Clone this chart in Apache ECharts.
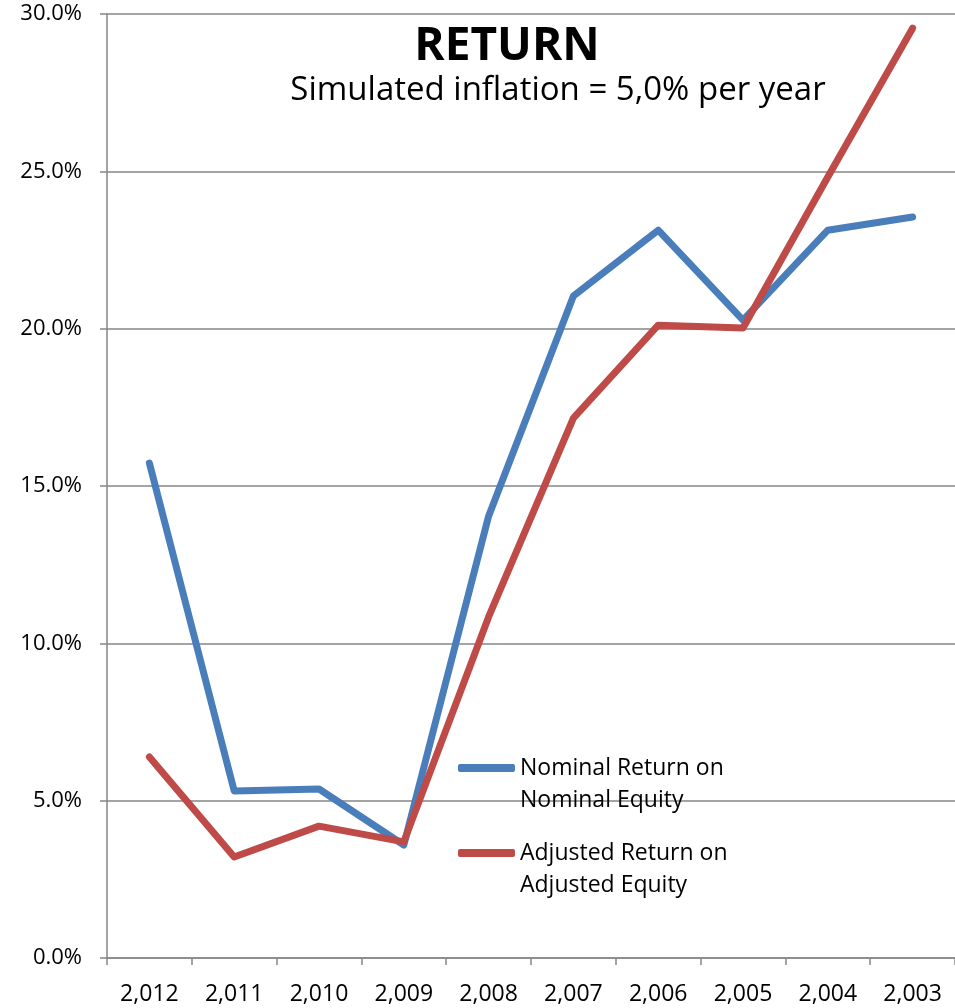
<!DOCTYPE html>
<html>
<head>
<meta charset="utf-8">
<script src="https://cdn.jsdelivr.net/npm/echarts@6/dist/echarts.min.js"></script>
<style>
  html, body { margin: 0; padding: 0; background: #fff; }
  #chart { width: 955px; height: 1008px; }
</style>
</head>
<body>
<div id="chart"></div>
<script>
// years, newest first as in the source
const years = ['2,012', '2,011', '2,010', '2,009', '2,008', '2,007', '2,006', '2,005', '2,004', '2,003']
// returns in percent
const nominalReturn = [15.73, 5.31, 5.37, 3.59, 14.04, 21.04, 23.13, 20.27, 23.13, 23.55]
const adjustedReturn = [6.39, 3.21, 4.19, 3.69, 10.84, 17.16, 20.11, 20.02, 24.82, 29.55]

const FONT = 'Open Sans'
const chart = echarts.init(document.getElementById('chart'))

const legendBase = {
  orient: 'vertical',
  left: 458,
  padding: 0,
  icon: 'roundRect',
  itemWidth: 57,
  itemHeight: 8,
  textStyle: {
    fontFamily: FONT,
    fontSize: 23,
    color: '#000',
    lineHeight: 32
  },
  // empty first line so the icon sits next to the first text line
  formatter: name => '\n' + name.replace(' on ', ' on\n')
}

chart.setOption({
  animation: false,
  title: [
    {
      text: 'RETURN',
      left: 502,
      top: 19,
      textAlign: 'center',
      textStyle: { fontFamily: FONT, fontSize: 46, fontWeight: 'bold', color: '#000' }
    },
    {
      text: 'Simulated inflation = 5,0% per year',
      left: 553,
      top: 69,
      textAlign: 'center',
      textStyle: { fontFamily: FONT, fontSize: 33, fontWeight: 'normal', color: '#000' }
    }
  ],
  legend: [
    Object.assign({}, legendBase, { top: 720, data: ['Nominal Return on Nominal Equity'] }),
    Object.assign({}, legendBase, { top: 805, data: ['Adjusted Return on Adjusted Equity'] })
  ],
  grid: {
    left: 107,
    right: -2,
    top: 14,
    bottom: 50
  },
  xAxis: {
    type: 'category',
    data: years,
    boundaryGap: true,
    axisLine: { lineStyle: { color: '#868686', width: 1.5 } },
    axisTick: { show: true, length: 7, lineStyle: { color: '#868686', width: 1.5 } },
    axisLabel: {
      margin: 25,
      fontFamily: FONT,
      fontSize: 23,
      color: '#000',
      interval: 0
    },
    splitLine: { show: false }
  },
  yAxis: {
    type: 'value',
    min: 0,
    max: 30,
    interval: 5,
    axisLine: { show: true, lineStyle: { color: '#868686', width: 1.5 } },
    axisTick: { show: true, length: 7, lineStyle: { color: '#868686', width: 1.5 } },
    axisLabel: {
      margin: 25,
      fontFamily: FONT,
      fontSize: 22,
      color: '#000',
      formatter: v => v.toFixed(1) + '%'
    },
    splitLine: { lineStyle: { color: '#868686', width: 1.5 } }
  },
  series: [
    {
      name: 'Nominal Return on Nominal Equity',
      type: 'line',
      data: nominalReturn,
      showSymbol: false,
      symbol: 'none',
      color: '#4a7ebb',
      lineStyle: { width: 7, color: '#4a7ebb', cap: 'round', join: 'round' }
    },
    {
      name: 'Adjusted Return on Adjusted Equity',
      type: 'line',
      data: adjustedReturn,
      showSymbol: false,
      symbol: 'none',
      color: '#be4b48',
      lineStyle: { width: 7, color: '#be4b48', cap: 'round', join: 'round' }
    }
  ]
})
</script>
</body>
</html>
